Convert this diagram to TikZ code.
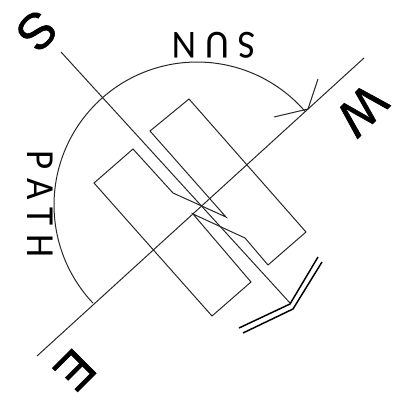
\documentclass[tikz,border=0pt]{standalone}
\usepackage{fontspec}
\setmainfont{Liberation Sans}
\newfontfamily\labelfont{Carlito}
\newfontfamily\markfont[FakeBold=1.2]{Liberation Sans}
\tikzset{
  thinline/.style={draw=black!85, line width=0.75pt},
  pairline/.style={draw=black, line width=1.1pt},
  lbl/.style={font=\labelfont\fontsize{30}{30}\selectfont, inner sep=0pt},
  bigmark/.style={font=\markfont\fontsize{38}{38}\selectfont, inner sep=0pt, rotate=225}
}
\begin{document}
\begin{tikzpicture}[x=0.0265cm, y=-0.0265cm]
            \useasboundingbox (0,0) rectangle (399,405);
            % Trục chính
            \coordinate (north) at (61,52);
            \coordinate (tip) at (290,303);
            \coordinate (east) at (37,356);
            \coordinate (west) at (364,58);
            \draw[thinline] (north) -- (tip);
            \draw[thinline] (east) -- (west);

            % Cung mặt trời
            \draw[thinline, domain=40.8:223.3, samples=100] plot ({197+143*cos(\x)}, {205-143*sin(\x)});

            % Mũi tên
            \coordinate (arrowa) at (318,79);
            \coordinate (arrowb) at (274,117);
            \draw[thinline] (arrowa) -- (308,109) -- (arrowb);

            % Hai hình chữ nhật nối bằng nét gãy
            \draw[thinline] (173,193) -- (133,149) -- (94,183) -- (212,316) -- (251,282) -- (193,214)
                -- (245,238) -- (268,265) -- (306,232) -- (189,99) -- (150,131) -- (226,217) -- cycle;

            % Nét đôi
            \draw[pairline] (239,328) -- (290,304) -- (318,257);
            \draw[pairline] (243,333) -- (293,309) -- (322,262);

            % Chữ
            \node[lbl, rotate=180, xscale=0.95] (sun) at (214,45) {S U N};
            \node[lbl, rotate=-90, xscale=0.93] (path) at (40,204) {P A T H};
            \node[bigmark] (markS) at (37,31) {S};
            \node[bigmark] (markW) at (362,110) {W};
            \node[bigmark] (markE) at (75,370) {E};
        \end{tikzpicture}
\end{document}
